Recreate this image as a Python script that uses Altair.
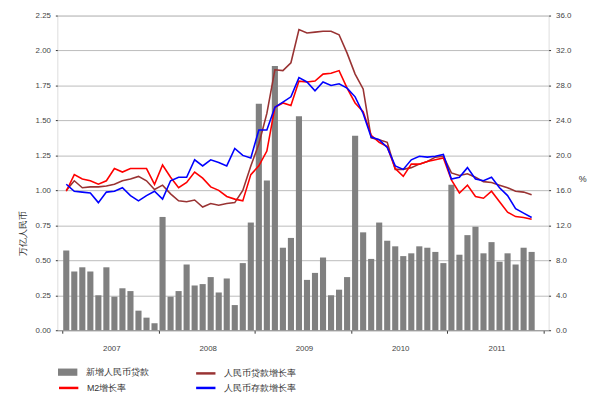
import altair as alt
import pandas as pd

# ---- data (Jan 2007 .. Nov 2011) ----
years = ["2007", "2008", "2009", "2010", "2011"]
months = [f"{y}-{m:02d}" for y in years for m in range(1, 13)][:59]

# new RMB loans, trillion yuan
new_loans = [
    0.57, 0.42, 0.45, 0.42, 0.25, 0.45, 0.24, 0.30, 0.28, 0.14, 0.09, 0.05,
    0.81, 0.24, 0.28, 0.47, 0.32, 0.33, 0.38, 0.27, 0.37, 0.18, 0.48, 0.77,
    1.62, 1.07, 1.89, 0.59, 0.66, 1.53, 0.36, 0.41, 0.52, 0.25, 0.29, 0.38,
    1.39, 0.70, 0.51, 0.77, 0.64, 0.60, 0.53, 0.55, 0.60, 0.59, 0.56, 0.48,
    1.04, 0.54, 0.68, 0.74, 0.55, 0.63, 0.49, 0.55, 0.47, 0.59, 0.56,
]
# RMB loan growth, %
loan_growth = [
    16.0, 17.1, 16.3, 16.4, 16.4, 16.5, 16.7, 17.1, 17.3, 17.6, 17.1, 16.1,
    16.6, 15.6, 14.8, 14.7, 14.9, 14.1, 14.5, 14.3, 14.5, 14.6, 16.0, 18.8,
    21.3, 24.8, 29.8, 29.7, 30.6, 34.4, 34.0, 34.1, 34.2, 34.2, 33.8, 31.7,
    29.3, 27.6, 22.0, 21.8, 21.5, 18.4, 18.4, 18.6, 19.0, 19.3, 19.8, 19.9,
    18.0, 17.7, 17.9, 17.5, 17.0, 16.9, 16.6, 16.3, 15.9, 15.8, 15.5,
]
# M2 growth, %
m2_growth = [
    15.9, 17.8, 17.3, 17.1, 16.7, 17.1, 18.5, 18.1, 18.5, 18.5, 18.5, 16.7,
    18.9, 17.5, 16.3, 16.9, 18.1, 17.4, 16.4, 16.0, 15.3, 15.0, 14.8, 17.8,
    18.8, 20.5, 25.5, 26.0, 25.7, 28.5, 28.4, 28.5, 29.3, 29.4, 29.7, 27.7,
    26.0, 25.0, 22.3, 21.5, 21.0, 18.5, 17.6, 19.0, 19.0, 19.3, 19.5, 19.7,
    17.2, 15.7, 16.6, 15.3, 15.1, 15.9, 14.7, 13.5, 13.0, 12.9, 12.7,
]
# RMB deposit growth, %
deposit_growth = [
    16.7, 15.9, 15.8, 15.7, 14.6, 15.8, 15.9, 16.3, 15.4, 14.8, 15.4, 15.9,
    15.0, 17.1, 17.5, 17.5, 19.5, 18.8, 19.5, 19.2, 18.8, 20.8, 20.0, 19.7,
    22.9, 22.9, 25.5, 26.1, 26.7, 28.9, 28.4, 27.4, 28.4, 28.0, 28.2, 27.7,
    26.7, 24.8, 22.1, 21.8, 20.9, 18.8, 18.4, 19.5, 19.9, 19.8, 19.9, 20.1,
    17.3, 17.5, 18.6, 17.3, 17.1, 17.5, 16.3, 15.4, 13.9, 13.4, 12.9,
]

bar_name = "新增人民币贷款"
loan_name, m2_name, dep_name = "人民币贷款增长率", "M2增长率", "人民币存款增长率"
line_names = [loan_name, m2_name, dep_name]
line_colors = {loan_name: "#993333", m2_name: "#FF0000", dep_name: "#0000FF"}

# ---- tables ----
bars_df = pd.DataFrame({"month": months, "loans": new_loans})
bars_df["t"] = bars_df.index + 0.5
bars_df["bar_series"] = bar_name

series_values = [loan_growth, m2_growth, deposit_growth]
lines_df = pd.concat(
    [
        pd.DataFrame({"month": months, "value": vals, "line_series": name})
        for name, vals in zip(line_names, series_values)
    ],
    ignore_index=True,
)
lines_df["t"] = lines_df.groupby("line_series").cumcount() + 0.5

FONT = "Liberation Sans"
W, H = 498, 319
per_month = W / 60

xscale = alt.Scale(domain=[0, 60], nice=False, zero=False)
xaxis = alt.Axis(values=[0, 12, 24, 36, 48, 60],
                 labelExpr="datum.value < 60 ? toString(2007 + datum.value / 12) : ''",
                 labelOffset=per_month * 6, labelPadding=12, labelFlush=False,
                 labelOverlap=False, labelBound=False,
                 tickSize=3, tickColor="#333", grid=False, title=None,
                 domainColor="#999", labelColor="#444",
                 labelFontSize=8, labelFont=FONT)

# legend grid is filled column by column: col1 = (blank under bar key, M2),
# col2 = (loan growth, deposit growth)
legend_order = [" ", m2_name, loan_name, dep_name]
legend_range = ["rgba(0,0,0,0)"] + [line_colors[n] for n in legend_order[1:]]

bars = alt.Chart(bars_df).mark_bar(size=6.2).encode(
    x=alt.X("t:Q", scale=xscale, axis=xaxis),
    y=alt.Y("loans:Q", scale=alt.Scale(domain=[0, 2.25], nice=False),
            axis=alt.Axis(values=[i * 0.25 for i in range(10)], format=".2f",
                          title="万亿人民币", titleFontSize=9, titleFontWeight="normal",
                          titleColor="#333", titleFont=FONT,
                          titleX=-30, titleY=220, titleAngle=-90,
                          grid=True, gridColor="#BBBBBB", gridWidth=1,
                          domain=False, tickSize=2, tickColor="#333",
                          labelPadding=5, labelColor="#444", labelFontSize=8,
                          labelFont=FONT)),
    fill=alt.Fill("bar_series:N",
                  scale=alt.Scale(domain=[bar_name], range=["#808080"]),
                  legend=alt.Legend(orient="none", legendX=4, legendY=355,
                                    title=None, padding=0,
                                    symbolType="M-1.6,-0.6L1.6,-0.6L1.6,0.6L-1.6,0.6Z",
                                    symbolSize=150, symbolStrokeWidth=0,
                                    labelFontSize=9, labelFont=FONT,
                                    labelColor="#333", labelOffset=12)),
)

lines = alt.Chart(lines_df).mark_line(strokeWidth=1.6).encode(
    x=alt.X("t:Q", scale=xscale, axis=xaxis),
    y=alt.Y("value:Q", scale=alt.Scale(domain=[0, 36], nice=False),
            axis=alt.Axis(orient="right", values=[i * 4 for i in range(10)],
                          format=".1f", title="%", titleAngle=0,
                          titleFontSize=9, titleFontWeight="normal",
                          titleColor="#333", titleFont=FONT,
                          titleX=34, titleY=170,
                          grid=False, domain=False, tickSize=2,
                          tickColor="#333", labelPadding=5,
                          labelColor="#444", labelFontSize=8, labelFont=FONT)),
    stroke=alt.Stroke("line_series:N", sort=legend_order,
                      scale=alt.Scale(domain=legend_order, range=legend_range),
                      legend=alt.Legend(orient="none", legendX=4, legendY=355,
                                        title=None, padding=0, columns=2,
                                        columnPadding=65, rowPadding=2,
                                        symbolType="M-1.6,0L1.6,0", symbolSize=150,
                                        symbolStrokeWidth=2.5,
                                        labelFontSize=9, labelFont=FONT,
                                        labelColor="#333", labelOffset=11)),
    order="t:Q",
)

chart = (
    alt.layer(bars, lines)
    .resolve_scale(y="independent", fill="independent", stroke="independent")
    .properties(width=W, height=H, autosize="none",
                padding={"left": 50, "top": 5, "right": 45, "bottom": 63})
    .configure_view(stroke=None)
    .configure(font=FONT)
)

chart.save("out.html", embed_options={"renderer": "svg", "actions": False})
